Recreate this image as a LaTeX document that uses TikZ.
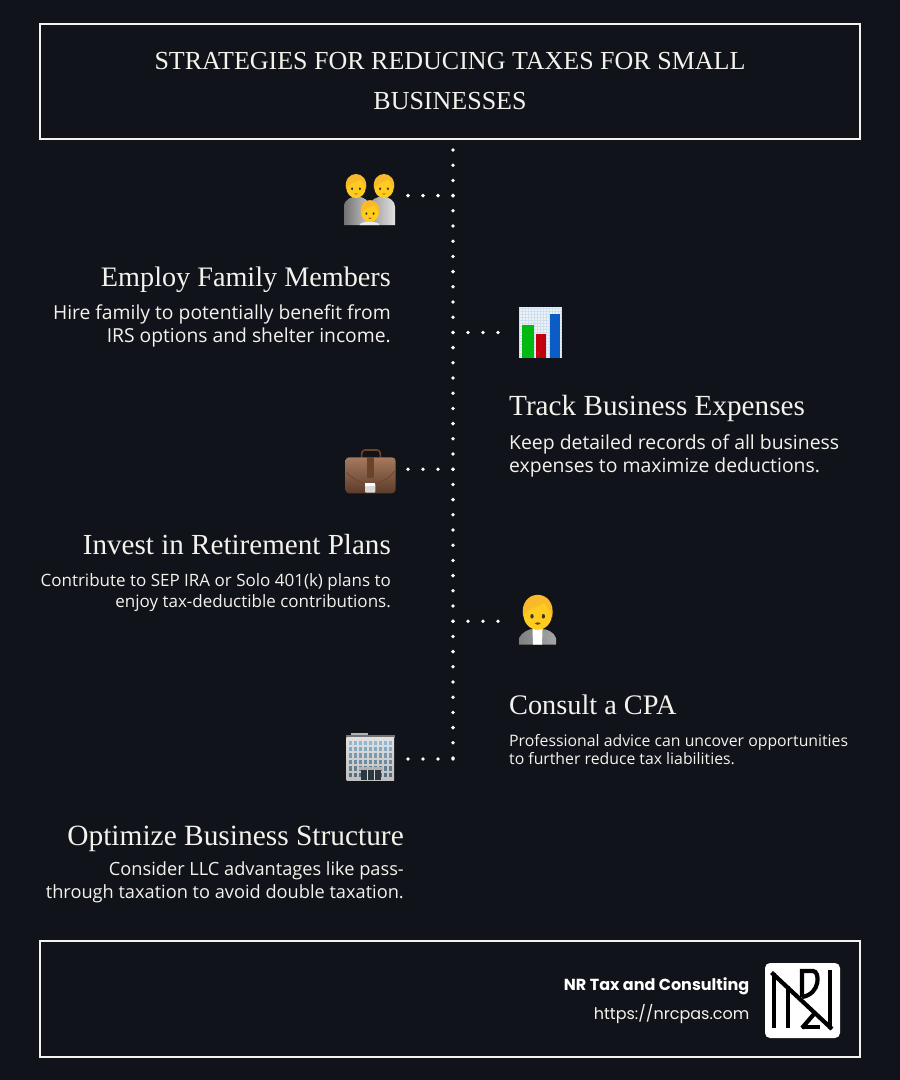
\documentclass[tikz,border=0pt]{standalone}
\usepackage{fontspec}
\setmainfont{Liberation Serif}
\newfontfamily\bodyfont{Open Sans}
\newfontfamily\footfont{Poppins}
\definecolor{pagebg}{HTML}{11131A}
\definecolor{inkwhite}{HTML}{F4F2EC}
\definecolor{skin}{HTML}{FFCB1E}
\definecolor{hair}{HTML}{F8B92A}
\definecolor{glass}{HTML}{8FB8D4}
\definecolor{leathertop}{HTML}{A57A5E}
\definecolor{leatherlow}{HTML}{5C3B2A}
\definecolor{strap}{HTML}{6B4328}
\definecolor{chartbg}{HTML}{EDF2F7}
\definecolor{chartgrid}{HTML}{CFDFEE}
\definecolor{bargreen}{HTML}{02B914}
\definecolor{barred}{HTML}{C2000E}
\definecolor{barblue}{HTML}{0B5CC4}
\tikzset{
  frame/.style={draw=inkwhite, line width=2pt},
  headline/.style={text=inkwhite, font=\fontsize{26}{40}\selectfont, align=center},
  heading/.style={text=inkwhite, font=\fontsize{#1}{32}\selectfont, inner sep=0pt},
  blurb/.style 2 args={text=inkwhite, inner sep=0pt, font=\bodyfont\fontsize{#1}{#2}\selectfont},
  iconbox/.style={inner sep=0pt, minimum width=#1},
  trail/.style={draw=white, line width=3.8pt, line cap=round, dash pattern=on 0pt off 15.2pt},
  logostroke/.style={draw=black, line width=4.2pt},
  face/.pic={
    \fill[skin] (0,0.1) ellipse (0.95 and 1.02);
    \fill[hair] (-0.97,0.25) .. controls (-1.3,-1.7) and (1.3,-1.7) .. (0.97,0.25) .. controls (0.8,-0.2) and (0.65,-0.45) .. (0.4,-0.68) .. controls (0,-0.35) and (-0.7,-0.4) .. (-0.97,0.25) -- cycle;
    \fill[black!80] (-0.38,0.22) ellipse (0.11 and 0.15);
    \fill[black!80] (0.38,0.22) ellipse (0.11 and 0.15);
    \fill[black!60!hair] (-0.2,0.68) .. controls (0,0.6) .. (0.2,0.68) .. controls (0,0.82) .. (-0.2,0.68) -- cycle;
  },
  familyicon/.pic={
    \shade[left color=black!55, right color=black!22] (-25.5,25.5) -- (-25.5,7) .. controls (-25.5,0) and (-18,-3) .. (-13,-3) .. controls (-5,-3) and (0,2) .. (0,7) -- (0,25.5) -- cycle;
    \shade[left color=black!40, right color=black!12] (0,25.5) -- (0,7) .. controls (0,0) and (8,-3) .. (13,-3) .. controls (20,-3) and (25.5,2) .. (25.5,7) -- (25.5,25.5) -- cycle;
    \pic[scale=10.3] at (-13.5,-13) {face};
    \pic[scale=10.3] at (14.5,-13) {face};
    \fill[black!8] (-10,25.5) .. controls (-9,21) and (9,21) .. (10,25.5) -- cycle;
    \pic[scale=9.4] at (0.5,12) {face};
  },
  charticon/.pic={
    \fill[chartbg] (-21.5,-25.5) rectangle (21.5,25.5);
    \draw[chartgrid, line width=0.3pt, step=3pt] (-21.5,-25.5) grid (21.5,25.5);
    \fill[bargreen] (-18.5,-7.5) rectangle (-6.5,25.5);
    \fill[barred] (-4.5,1.5) rectangle (5,25.5);
    \fill[barblue] (9.5,-19) rectangle (19.5,25.5);
  },
  caseicon/.pic={
    \draw[strap, line width=1.6pt, rounded corners=3pt] (-9,-14) -- (-8.5,-21.5) -- (9.5,-21.5) -- (10,-14);
    \shade[top color=leathertop, bottom color=leatherlow, rounded corners=3.5pt] (-25,-14.2) rectangle (25,21.8);
    \fill[strap] (-3.8,-14.2) rectangle (3.8,6.5);
    \draw[strap, line width=0.7pt] (-24,1) .. controls (-16,9) and (-10,11) .. (-5,12);
    \draw[strap, line width=0.7pt] (5,12) .. controls (11,11) and (17,8) .. (25,-1);
    \fill[black!15, rounded corners=1pt] (-5.5,11.8) rectangle (4.8,21.2);
    \fill[white] (-5.5,11.8) rectangle (4.8,14.5);
  },
  personicon/.pic={
    \shade[left color=black!50, right color=black!35] (-18,24.5) -- (-18,18) .. controls (-15,12) and (-8,9) .. (-4,9) -- (5,9) .. controls (10,9) and (17,12) .. (19,18) -- (19,24.5) -- cycle;
    \fill[white] (-4.5,9) -- (5.5,9) -- (5,24.5) -- (-4,24.5) -- cycle;
    \pic[scale=15] at (0.7,-7) {face};
  },
  towericon/.pic={
    \fill[black!30] (-19,-24.3) rectangle (-2.3,-21.7);
    \fill[black!55] (-24,-22) rectangle (25,-19.3);
    \shade[top color=black!12, bottom color=black!25] (-23.3,-19.3) rectangle (24,23);
    \foreach \col in {0,...,8}
      \foreach \row in {0,...,5} {
        \pgfmathtruncatemacro{\mixval}{100-8*\row}
        \fill[glass!\mixval!black] ({-21.4+5*\col},{-16.5+6.4*\row}) rectangle +(3.4,4.5);
      }
    \fill[black!30] (-11,9.7) rectangle (12.5,12.5);
    \fill[black!70!glass] (-9,12.5) rectangle (10.5,23);
    \draw[black!15, line width=0.5pt] (-3,12.5) -- (-3,23) (4,12.5) -- (4,23);
  },
}
\begin{document}
\begin{tikzpicture}[x=1pt,y=-1pt]
\useasboundingbox (0,0) rectangle (900,1080);
\fill[pagebg] (0,0) rectangle (900,1080);

% boxes
\node[frame, minimum width=820pt, minimum height=115pt, inner sep=0pt] (titlebox) at (450,81.5) {};
\node[frame, minimum width=820pt, minimum height=116pt, inner sep=0pt] (footbox) at (450,999) {};
\node[headline] (title) at (450,81) {STRATEGIES FOR REDUCING TAXES FOR SMALL\\BUSINESSES};

% icon boxes
\node[iconbox=51pt, minimum height=51pt] (family) at (369.5,199.5) {};
\node[iconbox=43pt, minimum height=51pt] (chart) at (540.5,332.5) {};
\node[iconbox=51pt, minimum height=45pt] (case) at (370.5,471.5) {};
\node[iconbox=36pt, minimum height=50pt] (person) at (537,620) {};
\node[iconbox=48pt, minimum height=48pt] (tower) at (370,757) {};
\pic at (family) {familyicon};
\pic at (chart) {charticon};
\pic at (case) {caseicon};
\pic at (person) {personicon};
\pic at (tower) {towericon};

% dotted lines
\coordinate (top) at (453,150);
\coordinate (bottom) at (453,759);
\coordinate (j1) at (453,195.6);
\coordinate (j2) at (453,332.4);
\coordinate (j3) at (453,469.2);
\coordinate (j4) at (453,621.2);
\coordinate (j5) at (453,759);
\path[trail] (top) -- (bottom);
\path[trail, dash pattern=on 0pt off 15pt] (j1) -- (family.east |- j1);
\path[trail, dash pattern=on 0pt off 15pt, shorten >=17pt] (j2) -- (chart.west |- j2);
\path[trail, dash pattern=on 0pt off 15pt] (j3) -- (case.east |- j3);
\path[trail, dash pattern=on 0pt off 15pt, shorten >=17pt] (j4) -- (person.west |- j4);
\path[trail, dash pattern=on 0pt off 15pt] (j5) -- (tower.east |- j5);

% text left and right
\node[heading=28.2, anchor=east] (h1) at (391,280) {Employ Family Members};
\node[blurb={19.3}{23}, anchor=north east, align=right] (b1) at (391,305) {Hire family to potentially benefit from\\IRS options and shelter income.};
\node[heading=29.2, anchor=west] (h2) at (509,408) {Track Business Expenses};
\node[blurb={19.4}{23}, anchor=north west, align=left] (b2) at (509,434) {Keep detailed records of all business\\expenses to maximize deductions.};
\node[heading=29.1, anchor=east] (h3) at (391,545) {Invest in Retirement Plans};
\node[blurb={17}{21}, anchor=north east, align=right] (b3) at (391,573) {Contribute to SEP IRA or Solo 401(k) plans to\\enjoy tax-deductible contributions.};
\node[heading=28.3, anchor=west] (h4) at (509,705) {Consult a CPA};
\node[blurb={15.8}{18}, anchor=north west, align=left] (b4) at (509,734) {Professional advice can uncover opportunities\\to further reduce tax liabilities.};
\node[heading=29.4, anchor=east] (h5) at (404,839) {Optimize Business Structure};
\node[blurb={18.2}{23}, anchor=north east, align=right] (b5) at (404,861) {Consider LLC advantages like pass-\\through taxation to avoid double taxation.};

% footer
\node[text=white, inner sep=0pt, anchor=east, font=\footfont\bfseries\fontsize{16}{20}\selectfont] (firm) at (749.5,986) {NR Tax and Consulting};
\node[text=inkwhite, inner sep=0pt, anchor=east, font=\footfont\fontsize{16}{20}\selectfont] (site) at (749.5,1014) {https://nrcpas.com};
\node[fill=white, rounded corners=5pt, minimum width=75pt, minimum height=75pt, inner sep=0pt] (logo) at (802.5,1000.5) {};
\path[logostroke] (774,973) -- (774,1028);
\path[logostroke] (771.5,972.5) -- (832,1029);
\path[logostroke] (788.3,986) -- (788.3,1028);
\path[logostroke] (802,997) -- (802,971) -- (813,971) .. controls (820,971) and (821,994) .. (802,997);
\path[logostroke] (830,970) -- (830,1029);
\path[logostroke] (802,1027) -- (820,1027);
\path[logostroke] (802,1028) -- (814,1014);
\end{tikzpicture}
\end{document}
